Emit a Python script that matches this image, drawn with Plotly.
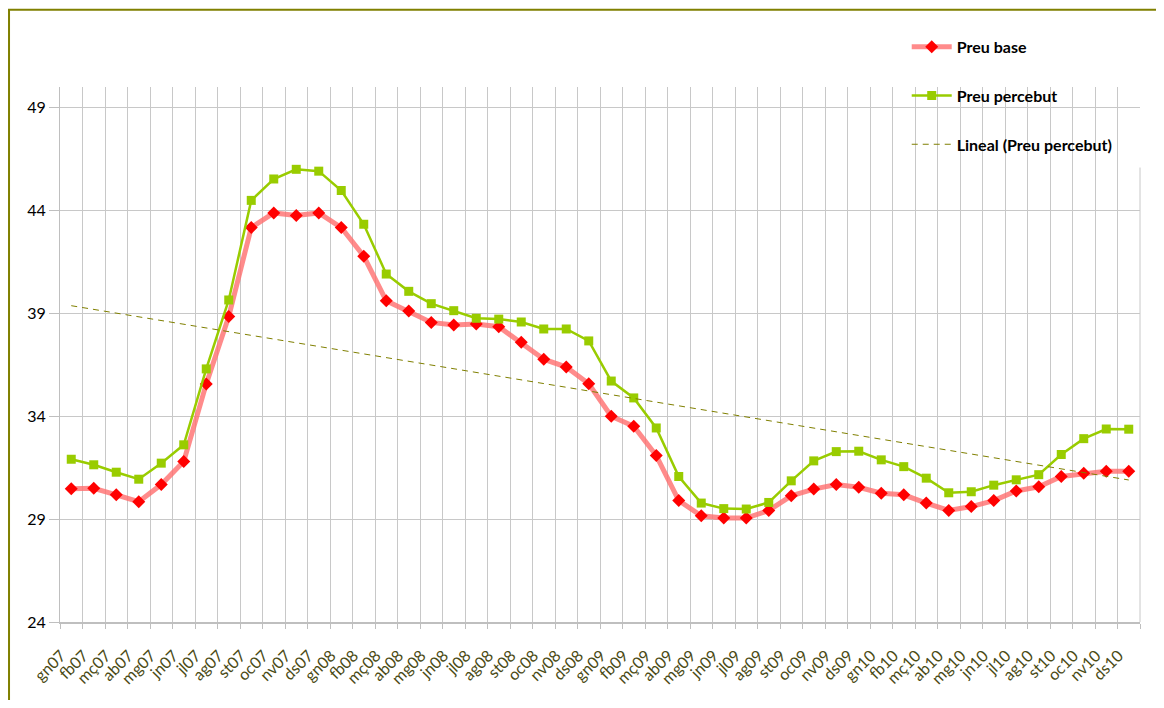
import numpy as np
import plotly.graph_objects as go

months = ["gn07","fb07","mç07","ab07","mg07","jn07","jl07","ag07","st07","oc07","nv07","ds07",
          "gn08","fb08","mç08","ab08","mg08","jn08","jl08","ag08","st08","oc08","nv08","ds08",
          "gn09","fb09","mç09","ab09","mg09","jn09","jl09","ag09","st09","oc09","nv09","ds09",
          "gn10","fb10","mç10","ab10","mg10","jn10","jl10","ag10","st10","oc10","nv10","ds10"]

preu_base = [30.47, 30.50, 30.18, 29.85, 30.68, 31.80, 35.57, 38.85, 43.17, 43.88, 43.76, 43.88,
             43.17, 41.78, 39.61, 39.11, 38.56, 38.43, 38.48, 38.35, 37.59, 36.77, 36.39, 35.58,
             34.00, 33.51, 32.09, 29.90, 29.16, 29.05, 29.05, 29.42, 30.13, 30.46, 30.68, 30.55,
             30.26, 30.18, 29.78, 29.42, 29.61, 29.90, 30.37, 30.57, 31.07, 31.23, 31.33, 31.33]

preu_percebut = [31.91, 31.64, 31.28, 30.94, 31.72, 32.61, 36.30, 39.65, 44.49, 45.53, 46.00, 45.91,
                 44.97, 43.33, 40.91, 40.07, 39.47, 39.13, 38.76, 38.72, 38.58, 38.24, 38.24, 37.66,
                 35.71, 34.89, 33.43, 31.07, 29.78, 29.51, 29.49, 29.81, 30.86, 31.83, 32.28, 32.30,
                 31.88, 31.55, 30.99, 30.28, 30.33, 30.65, 30.91, 31.16, 32.14, 32.91, 33.38, 33.37]

y_ticks = [24, 29, 34, 39, 44, 49]

# linear trend line (Excel "Lineal") fitted to Preu percebut
idx = np.arange(1, len(months) + 1)
slope, intercept = np.polyfit(idx, preu_percebut, 1)
trend = slope * idx + intercept

fig = go.Figure()
fig.add_trace(go.Scatter(
    x=months, y=preu_base, name="Preu base", mode="lines+markers",
    line=dict(color="rgba(255,110,110,0.8)", width=5),
    marker=dict(symbol="diamond", color="#FF0000", size=10),
    legendgroup="a"))
fig.add_trace(go.Scatter(
    x=months, y=preu_percebut, name="Preu percebut", mode="lines+markers",
    line=dict(color="#99CC00", width=2.5),
    marker=dict(symbol="square", color="#99CC00", size=9),
    legendgroup="b"))
fig.add_trace(go.Scatter(
    x=months, y=trend, name="Lineal (Preu percebut)", mode="lines",
    line=dict(color="#7F7F00", width=1, dash="6px,5px"),
    legendgroup="c"))

# white area behind legend (covers gridlines)
fig.add_shape(type="rect", xref="paper", yref="paper", x0=0.731, x1=1.02, y0=0.8495, y1=1.0,
              fillcolor="white", line=dict(width=0), layer="between")
# outer olive border
fig.add_shape(type="rect", xref="paper", yref="paper",
              x0=-0.0472, x1=1.2, y0=-0.3, y1=1.1445,
              line=dict(color="#808000", width=2), fillcolor="rgba(0,0,0,0)", layer="above")

fig.update_layout(
    width=1148, height=692,
    margin=dict(l=52, r=16, t=79, b=78),
    paper_bgcolor="white", plot_bgcolor="white",
    font=dict(family="Lato, Open Sans, sans-serif"),
    showlegend=True,
    legend=dict(x=0.784, y=1.107, xanchor="left", yanchor="top",
                bgcolor="rgba(0,0,0,0)", traceorder="grouped", tracegroupgap=25,
                font=dict(size=16, color="#000000", family="Lato, sans-serif", weight="bold"),
                itemwidth=40),
)
fig.update_xaxes(
    type="category", tickangle=-45, tickson="boundaries", ticks="outside", ticklen=5,
    tickcolor="#BFBFBF", showgrid=True, gridcolor="#C8C8C8", gridwidth=1,
    showline=True, linecolor="#BFBFBF", linewidth=2,
    ticklabelstandoff=16, ticklabelshift=-10,
    tickfont=dict(size=16, color="#4A4A14", family="Lato, sans-serif"),
    range=[-0.5, len(months) - 0.5])
fig.update_yaxes(
    range=[24, 50], tickvals=y_ticks, ticks="outside", ticklen=10, tickcolor="#BFBFBF",
    showgrid=True, gridcolor="#C8C8C8", gridwidth=1,
    showline=True, linecolor="#BFBFBF", linewidth=1, zeroline=False,
    tickfont=dict(size=16, color="#000000", family="Lato, sans-serif"))

# right-edge vertical gridline
fig.add_shape(type="line", xref="paper", yref="paper", x0=1, x1=1, y0=0, y1=0.8495,
              line=dict(color="#C8C8C8", width=1), layer="between")

fig.write_html("out.html")
